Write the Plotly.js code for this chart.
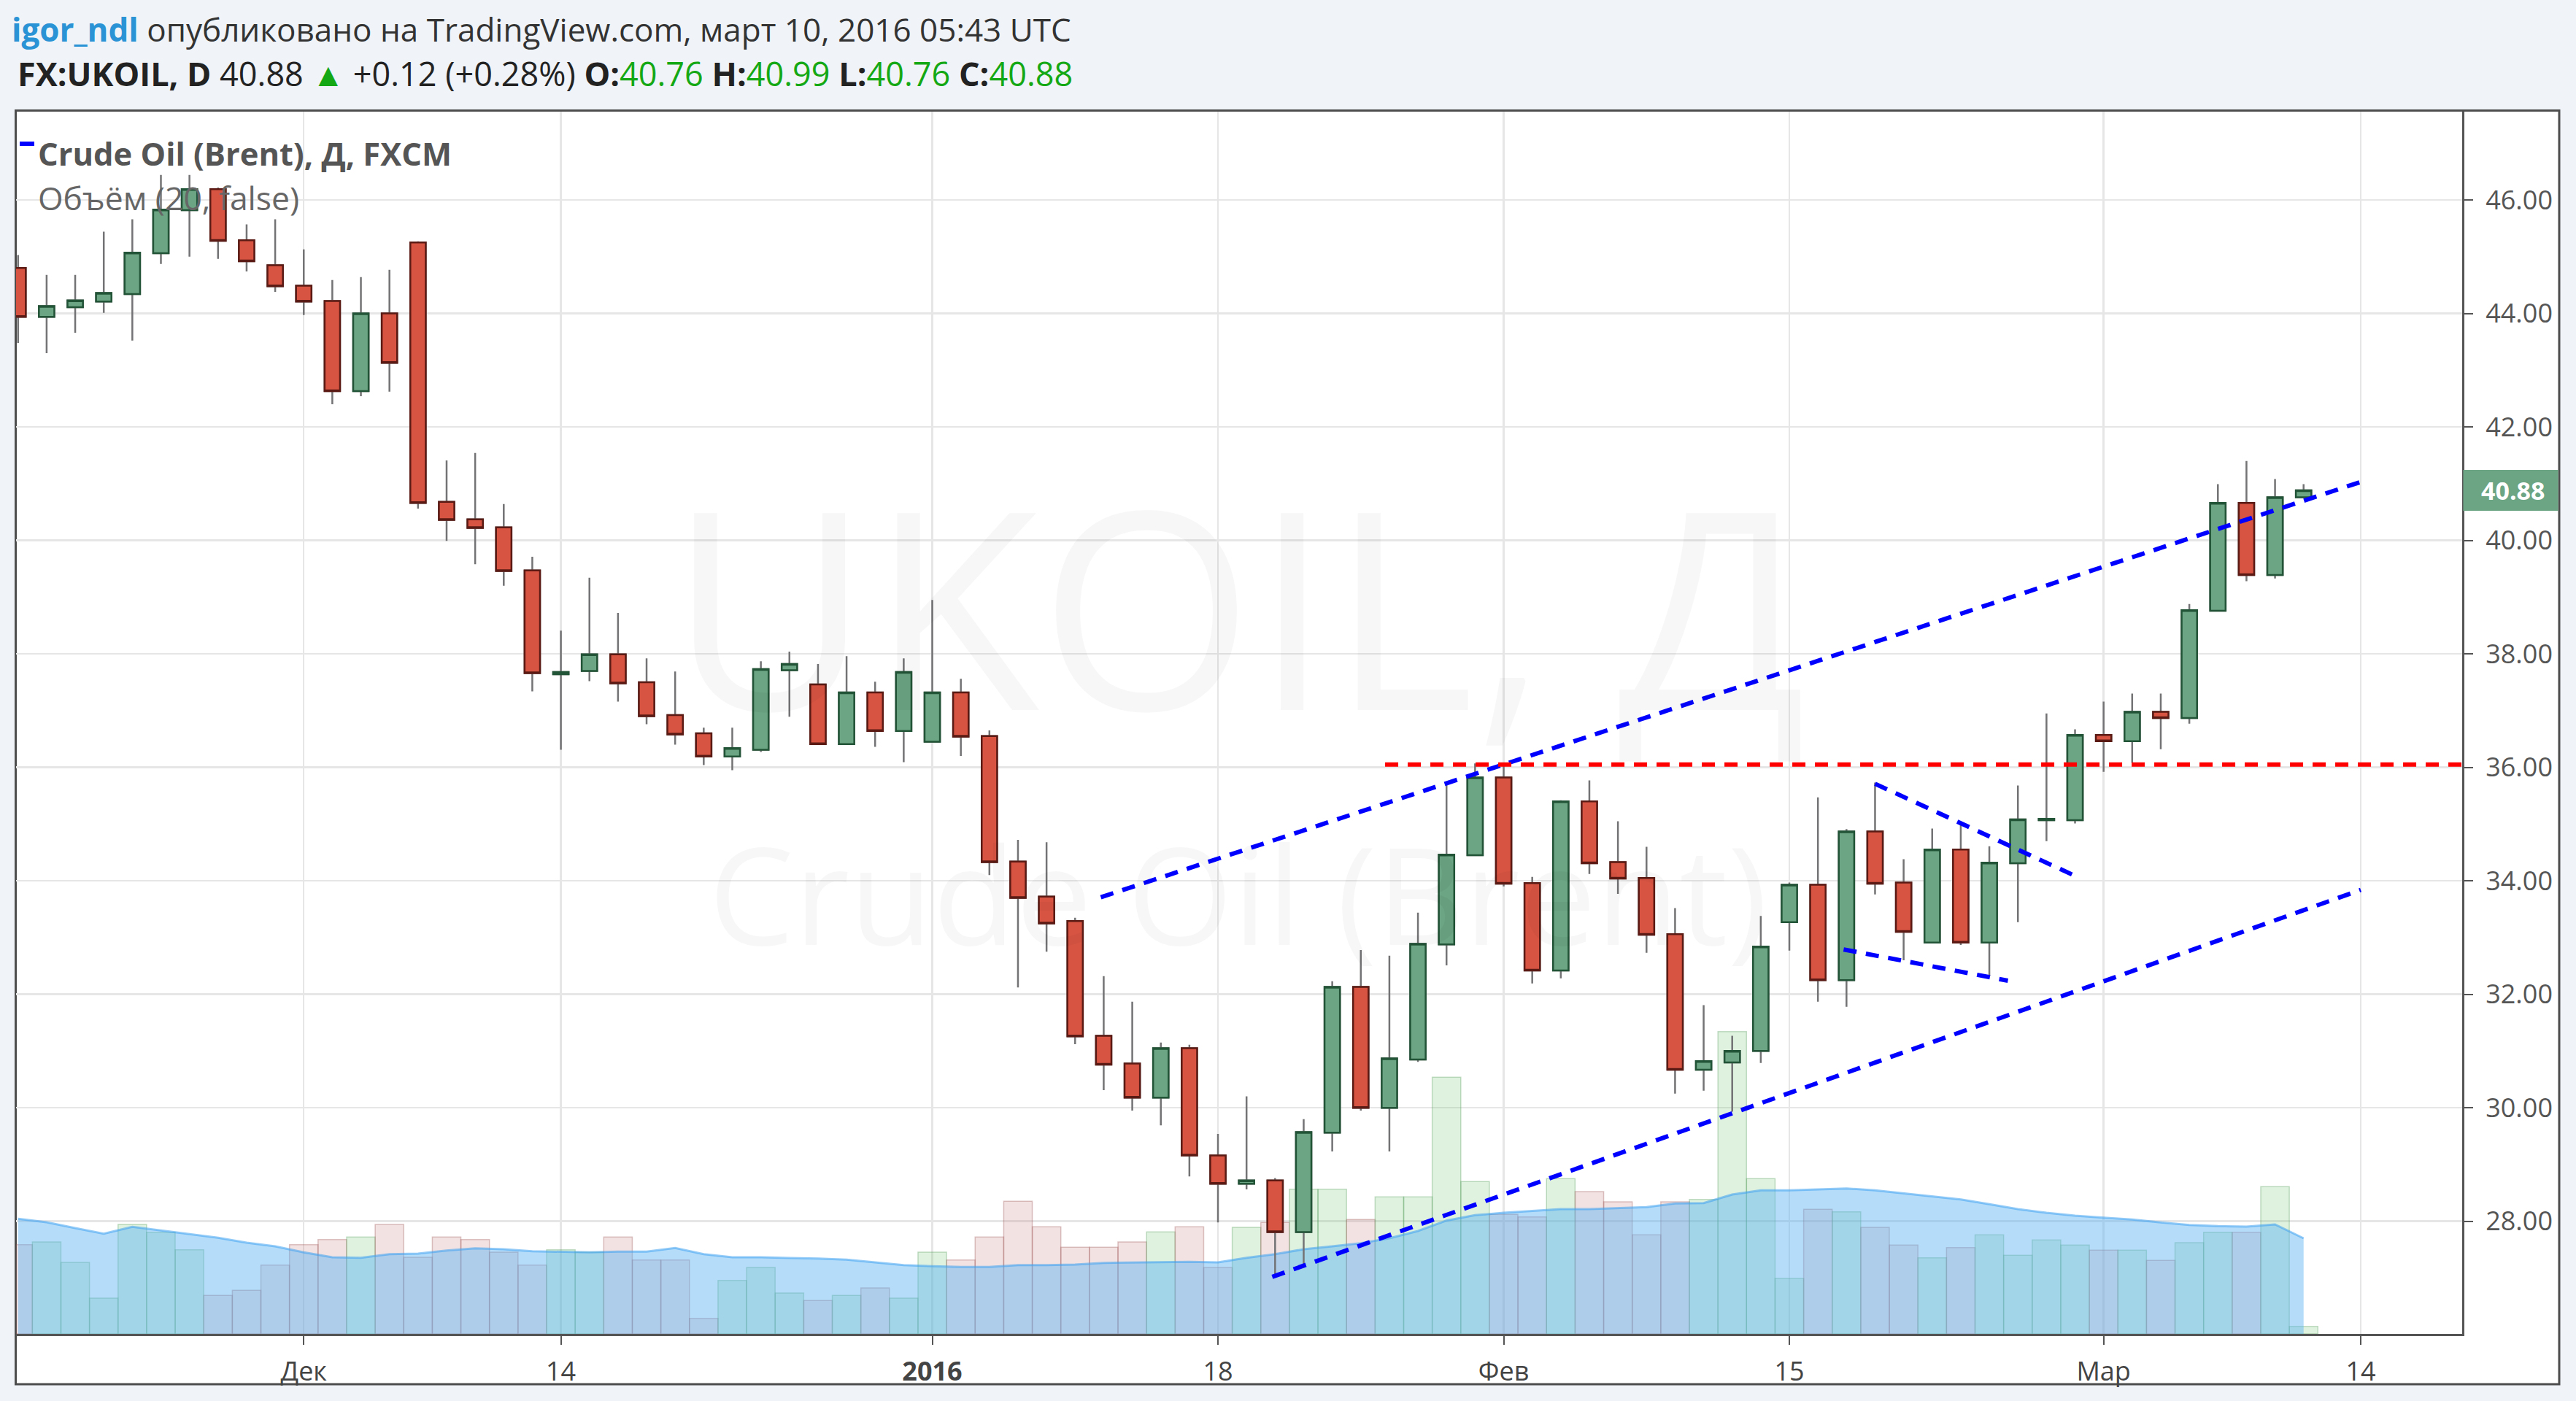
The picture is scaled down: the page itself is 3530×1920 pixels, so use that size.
<!DOCTYPE html>
<html><head><meta charset="utf-8">
<script src="https://cdn.plot.ly/plotly-3.0.1.min.js"></script>
<style>html,body{margin:0;padding:0;background:#f0f3f8;}#chart{width:3530px;height:1920px;}</style>
</head><body><div id="chart"></div>
<script>
// ---------------- data ----------------
const dates = [
 '2015-11-17','2015-11-18','2015-11-19','2015-11-20','2015-11-23','2015-11-24','2015-11-25','2015-11-26','2015-11-27','2015-11-30',
 '2015-12-01','2015-12-02','2015-12-03','2015-12-04','2015-12-07','2015-12-08','2015-12-09','2015-12-10','2015-12-11','2015-12-14',
 '2015-12-15','2015-12-16','2015-12-17','2015-12-18','2015-12-21','2015-12-22','2015-12-23','2015-12-24','2015-12-28','2015-12-29',
 '2015-12-30','2015-12-31','2016-01-04','2016-01-05','2016-01-06','2016-01-07','2016-01-08','2016-01-11','2016-01-12','2016-01-13',
 '2016-01-14','2016-01-15','2016-01-18','2016-01-19','2016-01-20','2016-01-21','2016-01-22','2016-01-25','2016-01-26','2016-01-27',
 '2016-01-28','2016-01-29','2016-02-01','2016-02-02','2016-02-03','2016-02-04','2016-02-05','2016-02-08','2016-02-09','2016-02-10',
 '2016-02-11','2016-02-12','2016-02-15','2016-02-16','2016-02-17','2016-02-18','2016-02-19','2016-02-22','2016-02-23','2016-02-24',
 '2016-02-25','2016-02-26','2016-02-29','2016-03-01','2016-03-02','2016-03-03','2016-03-04','2016-03-07','2016-03-08','2016-03-09',
 '2016-03-10'];
const open = [
 44.80,43.94,44.11,44.21,44.34,45.06,45.82,46.19,45.29,44.85,
 44.49,44.22,42.63,44.00,45.25,40.68,40.37,40.23,39.47,37.64,
 37.70,37.99,37.50,36.92,36.60,36.19,36.31,37.71,37.46,36.41,
 37.32,36.64,36.45,37.32,36.55,34.34,33.72,33.29,31.27,30.78,
 30.18,31.05,29.16,28.66,28.72,27.81,29.56,32.13,30.00,30.85,
 32.88,34.45,35.82,33.96,32.42,35.40,34.33,34.05,33.06,30.67,
 30.80,31.00,33.27,33.93,32.25,34.87,33.97,32.91,34.55,32.91,
 34.31,35.07,35.07,36.57,36.46,36.98,36.87,38.76,40.66,39.39,
 40.76];
const high = [
 45.03,44.68,44.68,45.44,45.66,46.44,46.44,46.22,45.57,45.66,
 45.13,44.59,44.64,44.77,45.27,41.41,41.54,40.64,39.71,38.41,
 39.34,38.72,37.92,37.69,36.70,36.70,37.87,38.04,37.82,37.96,
 37.51,37.92,38.95,37.56,36.65,34.72,34.68,33.35,32.32,31.87,
 31.15,31.11,29.54,30.20,28.76,29.80,32.23,32.78,32.68,33.44,
 35.69,36.07,36.04,34.07,35.42,35.77,35.05,34.60,33.52,31.81,
 31.27,33.38,33.97,35.47,34.91,35.73,34.38,34.92,35.02,34.61,
 35.68,36.95,36.67,37.16,37.30,37.30,38.88,40.99,41.40,41.08,
 40.99];
const low = [
 43.48,43.30,43.66,44.01,43.52,44.87,45.00,44.96,44.74,44.38,
 43.97,42.40,42.54,42.62,40.56,39.99,39.58,39.20,37.34,36.31,
 37.52,37.16,36.76,36.40,36.04,35.95,36.27,36.89,36.40,36.40,
 36.36,36.09,36.44,36.20,34.10,32.12,32.75,31.12,30.31,29.95,
 29.69,28.79,27.98,28.56,27.04,27.21,29.23,29.95,29.23,30.81,
 32.51,34.44,33.90,32.19,32.28,34.12,33.77,32.73,30.25,30.30,
 29.93,30.79,32.77,31.87,31.78,33.76,32.60,32.90,32.87,32.32,
 33.27,34.70,35.01,35.92,36.08,36.32,36.77,38.75,39.28,39.33,
 40.76];
const close = [
 43.94,44.13,44.23,44.36,45.07,45.83,46.19,45.28,44.92,44.48,
 44.21,42.63,44.00,43.13,40.66,40.36,40.22,39.46,37.66,37.68,
 37.99,37.48,36.90,36.58,36.19,36.34,37.73,37.82,36.41,37.32,
 36.64,37.68,37.32,36.54,34.33,33.70,33.25,31.26,30.76,30.18,
 31.05,29.16,28.66,28.72,27.81,29.57,32.13,30.00,30.87,32.89,
 34.46,35.82,33.95,32.42,35.40,34.31,34.04,33.05,30.67,30.82,
 31.00,32.84,33.93,32.25,34.87,33.95,33.10,34.55,32.91,34.32,
 35.08,35.09,36.57,36.46,36.98,36.87,38.77,40.66,39.39,40.76,
 40.88];
const volume = [
 12230,12600,9800,4900,15000,13930,11530,5270,5970,9430,
 12230,12930,13270,15000,10500,13270,12930,11200,9430,11530,
 11200,13270,10130,10130,2130,7330,9100,5600,4570,5270,
 6300,4900,11200,10130,13270,18170,14670,11870,11870,12600,
 13970,14670,9100,14600,15270,19830,19830,15670,18770,18770,
 35170,20870,16370,16030,21270,19500,18100,13570,18100,18430,
 41430,21270,7600,17070,16730,14600,12170,10430,11830,13570,
 10770,12870,12170,11470,11470,10070,12500,13930,13930,20170,
 1030];
const volumeMA = [
 15770,15300,14500,13730,14670,14170,13670,13170,12500,12000,
 11170,10500,10430,10930,11000,11430,11730,11600,11330,11230,
 11170,11270,11270,11770,10930,10500,10500,10400,10330,10170,
 9830,9430,9270,9170,9170,9430,9430,9500,9730,9800,
 9800,9870,9800,10430,10930,11600,12000,12430,13100,14100,
 15530,16270,16600,16870,17100,17100,17200,17370,17870,17930,
 19100,19670,19670,19770,19930,19670,19270,18870,18430,17770,
 17100,16600,16200,15930,15670,15270,14930,14770,14700,15000,
 13100];
const holidays = ['2015-12-25','2016-01-01'];
const tickDates = ['2015-12-01','2015-12-14','2016-01-04','2016-01-18','2016-02-01','2016-02-15','2016-03-01','2016-03-14'];
const tickText = ['Дек','14','<b>2016</b>','18','Фев','15','Мар','14'];
// drawn lines (date/time, price)
const upperX = ['2016-01-11T21:36','2016-03-14T00:00'];  const upperY = [33.71, 41.03];
const lowerX = ['2016-01-19T21:36','2016-03-14T00:00'];  const lowerY = [27.02, 33.84];
const resistX = ['2016-01-25T20:24','2016-03-18T00:00']; const resistY = [36.05, 36.05];
const flagTopX = ['2016-02-18T00:00','2016-02-26T21:36']; const flagTopY = [35.71, 34.11];
const flagBotX = ['2016-02-16T21:36','2016-02-24T15:36']; const flagBotY = [32.79, 32.24];

// ------------- helpers -------------
function tradingIndex(s){
  const parts = s.split('T');
  const cur = new Date(dates[0]+'T00:00:00Z');
  const end = new Date(parts[0]+'T00:00:00Z');
  let n = 0;
  while(cur < end){
    cur.setUTCDate(cur.getUTCDate()+1);
    const wd = cur.getUTCDay();
    const iso = cur.toISOString().slice(0,10);
    if(wd!==0 && wd!==6 && holidays.indexOf(iso)<0) n++;
  }
  let frac = 0;
  if(parts[1]){ const hm = parts[1].split(':').map(Number); frac = (hm[0]+hm[1]/60)/24; }
  return n+frac;
}
const PL=22, PR=3374, PT=153, PB=1828;
const X = px => (px-PL)/(PR-PL);
const Y = py => (PB-py)/(PB-PT);

const xi = dates.map(tradingIndex);
const up = close.map((c,i)=> c >= open[i]);
const bodyHigh = open.map((o,i)=>Math.max(o,close[i]));
const bodyLow = open.map((o,i)=>Math.min(o,close[i]));

const GREEN='#6ba583', GREEN_B='#225437', RED='#d75442', RED_B='#5b1a13', WICK='#737375';

const traces = [
  { type:'bar', x:xi, y:volume, width:1, yaxis:'y',
    marker:{color: up.map(u=>u?'rgba(110,190,110,0.22)':'rgba(190,110,110,0.20)'),
            line:{color: up.map(u=>u?'rgba(90,160,95,0.35)':'rgba(160,90,90,0.35)'), width:1.5}} },
  { type:'scatter', mode:'lines', x:xi, y:volumeMA, yaxis:'y', fill:'tozeroy',
    fillcolor:'rgba(90,180,245,0.45)', line:{color:'rgba(60,160,240,0.55)', width:3} },
  { type:'candlestick', x:xi, open:open, high:high, low:low, close:close, yaxis:'y2', whiskerwidth:0,
    increasing:{line:{color:WICK,width:2.5}, fillcolor:'rgba(0,0,0,0)'},
    decreasing:{line:{color:WICK,width:2.5}, fillcolor:'rgba(0,0,0,0)'} },
  { type:'candlestick', x:xi, open:open, high:bodyHigh, low:bodyLow, close:close, yaxis:'y2', whiskerwidth:0,
    increasing:{line:{color:GREEN_B,width:2.5}, fillcolor:GREEN},
    decreasing:{line:{color:RED_B,width:2.5}, fillcolor:RED} }
];
const dash = '18px,13px';
[[upperX,upperY,'#0000ff'],[lowerX,lowerY,'#0000ff'],[resistX,resistY,'#ff0000'],
 [flagTopX,flagTopY,'#0000ff'],[flagBotX,flagBotY,'#0000ff']].forEach(l=>{
  traces.push({type:'scatter', mode:'lines', x:l[0].map(tradingIndex), y:l[1], yaxis:'y2',
    line:{color:l[2], width:6, dash:dash}});
});

const last = close[close.length-1];
const layout = {
  width:3530, height:1920,
  paper_bgcolor:'#f0f3f8', plot_bgcolor:'#ffffff',
  margin:{l:PL, r:3530-PR, t:PT, b:1920-PB, pad:0},
  showlegend:false, hovermode:false, dragmode:false,
  font:{family:'"Open Sans", sans-serif', color:'#444'},
  boxgap:0.46, boxgroupgap:0,
  xaxis:{type:'linear', range:[-0.07,85.55], tickmode:'array', tickvals:tickDates.map(tradingIndex), ticktext:tickText,
    showgrid:true, gridcolor:'#e6e6e6', gridwidth:2.5, zeroline:false,
    ticks:'outside', ticklen:12, tickwidth:2, tickcolor:'#555', ticklabelstandoff:6,
    showline:true, linecolor:'#555', linewidth:3, tickfont:{size:36, color:'#444'},
    rangeslider:{visible:false}, fixedrange:true},
  yaxis:{visible:false, range:[0,167500], fixedrange:true},
  yaxis2:{overlaying:'y', side:'right', range:[26.015,47.556], tick0:0, dtick:2, tickformat:'.2f',
    showgrid:true, gridcolor:'#e6e6e6', gridwidth:2.5, zeroline:false,
    ticks:'outside', ticklen:12, tickwidth:2, tickcolor:'#555', ticklabelstandoff:10,
    showline:true, linecolor:'#555', linewidth:3, tickfont:{size:36, color:'#555'}, fixedrange:true},
  shapes:[
    {type:'rect', xref:'paper', yref:'paper', x0:X(21.5), x1:X(3507), y0:Y(1897), y1:Y(151.5),
     fillcolor:'#ffffff', line:{color:'#4d4d4d', width:3}, layer:'below'},
    {type:'rect', xref:'paper', yref:'y2', x0:X(3375.5), x1:X(3505.5), y0:last-0.36, y1:last+0.36,
     fillcolor:GREEN, line:{width:0}, layer:'above'},
    {type:'line', xref:'paper', yref:'paper', x0:X(27), x1:X(47), y0:Y(197), y1:Y(197),
     line:{color:'#0000ff', width:6}}
  ],
  annotations:[
    {xref:'paper', yref:'paper', x:X(1696), y:Y(826), showarrow:false, borderpad:0,
     text:'UKOIL, Д', font:{size:378, color:'rgba(0,0,0,0.03)'}, xanchor:'center', yanchor:'middle'},
    {xref:'paper', yref:'paper', x:X(1696), y:Y(1222), showarrow:false, borderpad:0,
     text:'Crude Oil (Brent)', font:{size:186, color:'rgba(0,0,0,0.03)'}, xanchor:'center', yanchor:'middle'},
    {xref:'paper', yref:'paper', x:X(14), y:Y(40), xanchor:'left', yanchor:'middle', showarrow:false,
     text:'<b><span style="color:#2a93d5">igor_ndl</span></b> опубликовано на TradingView.com, март 10, 2016 05:43 UTC',
     font:{size:44, color:'#333'}},
    {xref:'paper', yref:'paper', x:X(22), y:Y(101), xanchor:'left', yanchor:'middle', showarrow:false,
     text:'<b>FX:UKOIL, D</b> 40.88 <span style="color:#14a814">▲</span> +0.12 (+0.28%) <b>O:</b><span style="color:#14a814">40.76</span> <b>H:</b><span style="color:#14a814">40.99</span> <b>L:</b><span style="color:#14a814">40.76</span> <b>C:</b><span style="color:#14a814">40.88</span>',
     font:{size:45, color:'#222'}},
    {xref:'paper', yref:'paper', x:X(50), y:Y(211), xanchor:'left', yanchor:'middle', showarrow:false,
     text:'<b>Crude Oil (Brent), Д, FXCM</b>', font:{size:43.5, color:'#555'}},
    {xref:'paper', yref:'paper', x:X(50), y:Y(270), xanchor:'left', yanchor:'middle', showarrow:false,
     text:'Объём (20, false)', font:{size:44.5, color:'#666'}},
    {xref:'paper', yref:'y2', x:X(3443), y:last, xanchor:'center', yanchor:'middle', showarrow:false,
     text:'<b>'+last.toFixed(2)+'</b>', font:{size:34, color:'#ffffff'}}
  ]
};
Plotly.newPlot('chart', traces, layout, {staticPlot:true, displayModeBar:false});
</script></body></html>
